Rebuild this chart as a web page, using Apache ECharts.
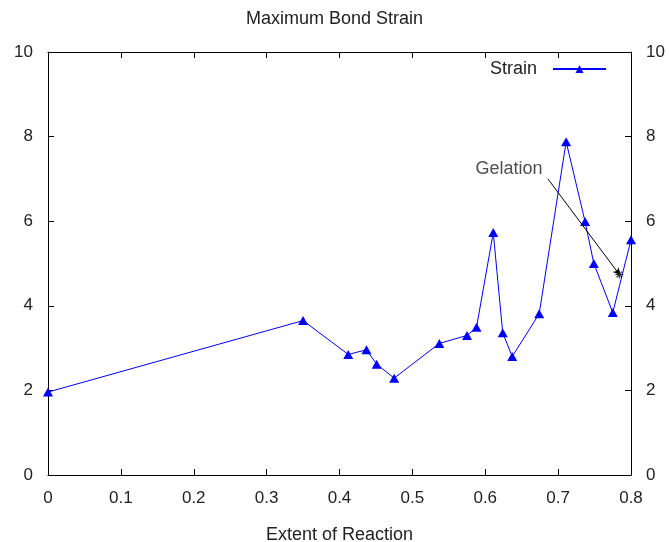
<!DOCTYPE html>
<html>
<head>
<meta charset="utf-8">
<script src="https://cdn.jsdelivr.net/npm/echarts@6/dist/echarts.min.js"></script>
<style>html,body{margin:0;padding:0;background:#fff;}#c{width:669px;height:542px;}</style>
</head>
<body>
<div id="c"></div>
<script>
const titleText = 'Maximum Bond Strain';
const xName = 'Extent of Reaction';
const seriesName = 'Strain';
const extent = [0, 0.35, 0.412, 0.437, 0.451, 0.475, 0.537, 0.575, 0.588, 0.611, 0.624, 0.637, 0.674, 0.711, 0.737, 0.749, 0.775, 0.8];
const strain = [1.96, 3.65, 2.85, 2.96, 2.62, 2.29, 3.11, 3.30, 3.49, 5.73, 3.36, 2.80, 3.81, 7.88, 5.99, 5.00, 3.84, 5.56];
const gelLabel = 'Gelation';
const gelLabelPos = [0.586, 7.24];
const gelArrow = [[0.686, 7.0], [0.784, 4.74]];
const xRange = [0, 0.8, 0.1];
const yRange = [0, 10, 2];

const FONT = 'Liberation Sans, Arial, sans-serif';
const TXT = '#222';
const chart = echarts.init(document.getElementById('c'), null, {renderer: 'canvas'});
const fmt = v => String(Math.round(v * 10) / 10);
const xCommon = {type: 'value', min: xRange[0], max: xRange[1], interval: xRange[2],
  axisLine: {show: true, onZero: false, lineStyle: {color: '#000', width: 1}},
  axisTick: {show: true, inside: true, length: 6, lineStyle: {color: '#000'}},
  splitLine: {show: false}};
const yCommon = {type: 'value', min: yRange[0], max: yRange[1], interval: yRange[2],
  axisLine: {show: true, onZero: false, lineStyle: {color: '#000', width: 1}},
  axisTick: {show: true, inside: true, length: 6, lineStyle: {color: '#000'}},
  splitLine: {show: false},
  axisLabel: {color: TXT, fontFamily: FONT, fontSize: 17, margin: 15}};

chart.setOption({
  animation: false,
  backgroundColor: '#fff',
  title: {text: titleText, left: 'center', top: 5,
    textStyle: {fontFamily: FONT, fontSize: 18, fontWeight: 'normal', color: TXT}},
  legend: {data: [seriesName], right: 62, top: 60, align: 'right', padding: 0,
    itemWidth: 53, itemHeight: 10,
    textStyle: {fontFamily: FONT, fontSize: 18, color: TXT, padding: [0, 11, 0, 0]}},
  grid: {left: 48, right: 38, top: 52, bottom: 67, containLabel: false, outerBoundsMode: 'none'},
  xAxis: [
    Object.assign({}, xCommon, {position: 'bottom', name: xName, nameLocation: 'middle', nameGap: 51,
      nameTextStyle: {fontFamily: FONT, fontSize: 18, color: TXT},
      axisLabel: {color: TXT, fontFamily: FONT, fontSize: 17, margin: 15, formatter: fmt}}),
    Object.assign({}, xCommon, {position: 'top', axisLabel: {show: false}})
  ],
  yAxis: [
    Object.assign({}, yCommon, {position: 'left'}),
    Object.assign({}, yCommon, {position: 'right'})
  ],
  series: [
    {name: seriesName, type: 'line', xAxisIndex: 0, yAxisIndex: 0,
      data: extent.map((x, i) => [x, strain[i]]),
      symbol: 'triangle', symbolSize: [10, 9], showSymbol: true,
      lineStyle: {color: '#0000ff', width: 1},
      itemStyle: {color: '#0000ff'}, z: 3},
    {name: 'arrow', type: 'lines', coordinateSystem: 'cartesian2d', xAxisIndex: 0, yAxisIndex: 0,
      data: [{coords: gelArrow}], symbol: ['none', 'arrow'], symbolSize: 6,
      lineStyle: {color: '#000', width: 1, opacity: 1}, z: 4, silent: true},
    {name: 'gelpoint', type: 'scatter', xAxisIndex: 0, yAxisIndex: 0,
      data: [gelArrow[1]],
      symbol: 'path://M0,5L10,5M5,0L5,10M1.5,1.5L8.5,8.5M8.5,1.5L1.5,8.5', symbolSize: 8,
      itemStyle: {color: 'none', borderColor: '#000', borderWidth: 1.2}, z: 5, silent: true},
    {name: 'gellabel', type: 'scatter', xAxisIndex: 0, yAxisIndex: 0,
      data: [gelLabelPos], symbolSize: 1, itemStyle: {color: 'rgba(0,0,0,0)'},
      label: {show: true, position: 'right', distance: 0, formatter: gelLabel,
        fontFamily: FONT, fontSize: 18, color: TXT}, silent: true}
  ]
});
</script>
</body>
</html>
